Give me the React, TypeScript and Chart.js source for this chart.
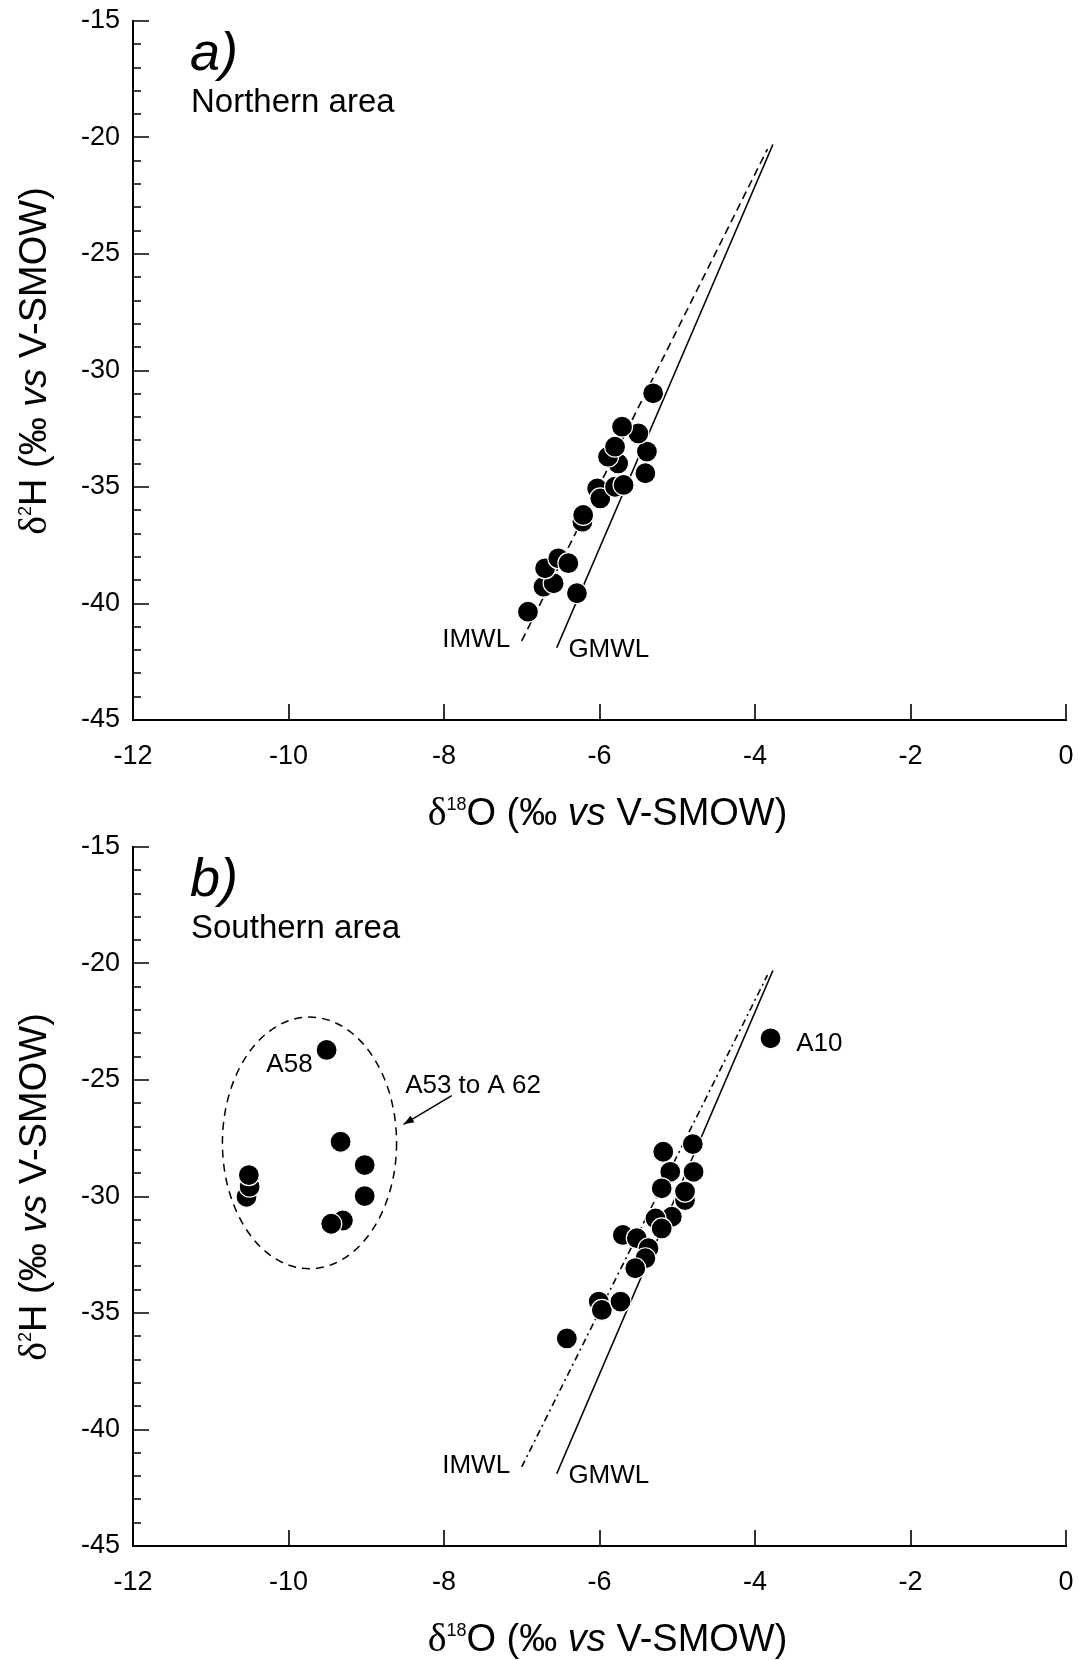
import React, { useEffect, useRef } from "react";
import { Chart, registerables } from "chart.js";
Chart.register(...registerables);

const FONT = '"Liberation Sans", Arial, Helvetica, sans-serif';
const SERIF = '"Liberation Serif", "Times New Roman", serif';

// ---- axis ticks ----
const xTickValues = [-12, -10, -8, -6, -4, -2, 0];
const yTickValues = [-45, -40, -35, -30, -25, -20, -15];
const yMinorTickValues = [-44, -43, -42, -41, -39, -38, -37, -36, -34, -33, -32, -31, -29, -28, -27, -26, -24, -23, -22, -21, -19, -18, -17, -16];

// ---- a) Northern area ----
const northO18 = [-6.92, -6.72, -6.59, -6.70, -6.53, -6.40, -6.29, -6.22, -6.21, -6.03, -5.99, -5.80, -5.69, -5.76, -5.89, -5.80, -5.41, -5.39, -5.50, -5.71, -5.31];
const northH2 = [-40.35, -39.28, -39.13, -38.49, -38.06, -38.27, -39.56, -36.49, -36.20, -35.06, -35.49, -34.99, -34.91, -33.99, -33.70, -33.27, -34.41, -33.48, -32.70, -32.41, -30.98];

// ---- b) Southern area ----
const southO18 = [-3.80, -4.90, -4.80, -5.18, -4.79, -5.09, -5.20, -4.90, -5.07, -5.28, -5.20, -5.70, -5.52, -5.37, -5.41, -5.54, -6.01, -5.97, -5.73, -6.42, -9.51, -9.33, -9.02, -9.02, -9.30, -9.45, -10.54, -10.50, -10.51];
const southH2 = [-23.21, -30.15, -27.75, -28.08, -28.94, -28.94, -29.65, -29.79, -30.87, -30.94, -31.37, -31.65, -31.79, -32.22, -32.65, -33.08, -34.51, -34.87, -34.51, -36.09, -23.71, -27.65, -28.65, -29.98, -31.03, -31.17, -30.01, -29.58, -29.08];

// ---- meteoric water lines (end points) ----
const gmwlO18 = [-6.55, -3.77];
const gmwlH2 = [-41.9, -20.3];
const imwlO18 = [-7.0, -3.84];
const imwlH2 = [-41.6, -20.5];

// ---- annotations ----
const lineLabelText = ["IMWL", "GMWL"];
const lineLabelO18 = [-7.15, -6.4];
const lineLabelH2 = [-41.55, -41.99];
const lineLabelAlign = ["right", "left"];

const southLabelText = ["A10", "A58", "A53 to A 62"];
const southLabelO18 = [-3.47, -9.69, -8.5];
const southLabelH2 = [-23.45, -24.34, -25.24];
const southLabelAlign = ["left", "right", "left"];

const clusterCenter = [-9.73, -27.7];
const clusterRadii = [1.12, 5.4];
const arrowFrom = [-7.9, -25.67];
const arrowTo = [-8.52, -26.9];

type Seg = { t: string; size: number; dy?: number; italic?: boolean; serif?: boolean };

function segFont(s: Seg) {
  return `${s.italic ? "italic " : ""}${s.size}px ${s.serif ? SERIF : FONT}`;
}

function drawRich(ctx: CanvasRenderingContext2D, segs: Seg[], cx: number, cy: number, rotate: boolean) {
  ctx.save();
  let total = 0;
  const widths = segs.map((s) => {
    ctx.font = segFont(s);
    const w = ctx.measureText(s.t).width;
    total += w;
    return w;
  });
  ctx.translate(cx, cy);
  if (rotate) ctx.rotate(-Math.PI / 2);
  ctx.fillStyle = "#000";
  ctx.textBaseline = "alphabetic";
  ctx.textAlign = "left";
  let x = -total / 2;
  segs.forEach((s, i) => {
    ctx.font = segFont(s);
    ctx.fillText(s.t, x, 13.5 + (s.dy || 0));
    x += widths[i];
  });
  ctx.restore();
}

const xTitle: Seg[] = [
  { t: "δ", size: 40, serif: true },
  { t: "18", size: 18, dy: -14.2 },
  { t: "O (‰ ", size: 38 },
  { t: "vs", size: 38, italic: true },
  { t: " V-SMOW)", size: 38 },
];
const yTitle: Seg[] = [
  { t: "δ", size: 40, serif: true },
  { t: "2", size: 18, dy: -14.2 },
  { t: "H (‰ ", size: 38 },
  { t: "vs", size: 38, italic: true },
  { t: " V-SMOW)", size: 38 },
];

type PanelSpec = {
  letter: string;
  area: string;
  o18: number[];
  h2: number[];
  imwlDash: number[];
  south: boolean;
};

function makePlugin(spec: PanelSpec) {
  return {
    id: "decor",
    afterDraw(chart: any) {
      const { ctx, chartArea } = chart;
      const xs = chart.scales.x;
      const ys = chart.scales.y;
      const { left, right, bottom } = chartArea;
      ctx.save();
      // inward tick marks
      ctx.strokeStyle = "#000";
      ctx.lineWidth = 1.6;
      ctx.beginPath();
      xTickValues.forEach((v) => {
        const px = Math.round(xs.getPixelForValue(v));
        ctx.moveTo(px, bottom);
        ctx.lineTo(px, bottom - 16);
      });
      yTickValues.forEach((v) => {
        const py = Math.round(ys.getPixelForValue(v));
        ctx.moveTo(left, py);
        ctx.lineTo(left + 16, py);
      });
      yMinorTickValues.forEach((v) => {
        const py = Math.round(ys.getPixelForValue(v));
        ctx.moveTo(left, py);
        ctx.lineTo(left + 8, py);
      });
      ctx.stroke();

      // panel letter and area name
      ctx.fillStyle = "#000";
      ctx.textBaseline = "alphabetic";
      ctx.textAlign = "left";
      ctx.font = `italic 54px ${FONT}`;
      ctx.fillText(spec.letter, 190, 70);
      ctx.font = `33px ${FONT}`;
      ctx.fillText(spec.area, 191, 112);

      // axis titles
      drawRich(ctx, xTitle, (left + right) / 2 + 8, 811, false);
      drawRich(ctx, yTitle, 32, 361, true);

      // line labels
      ctx.font = `26px ${FONT}`;
      ctx.textBaseline = "middle";
      lineLabelText.forEach((t, i) => {
        ctx.textAlign = lineLabelAlign[i] as CanvasTextAlign;
        ctx.fillText(t, xs.getPixelForValue(lineLabelO18[i]), ys.getPixelForValue(lineLabelH2[i]));
      });

      if (spec.south) {
        southLabelText.forEach((t, i) => {
          ctx.textAlign = southLabelAlign[i] as CanvasTextAlign;
          ctx.fillText(t, xs.getPixelForValue(southLabelO18[i]), ys.getPixelForValue(southLabelH2[i]));
        });
        // dashed ellipse
        const cx = xs.getPixelForValue(clusterCenter[0]);
        const cy = ys.getPixelForValue(clusterCenter[1]);
        const rx = Math.abs(xs.getPixelForValue(clusterCenter[0] + clusterRadii[0]) - cx);
        const ry = Math.abs(ys.getPixelForValue(clusterCenter[1] + clusterRadii[1]) - cy);
        ctx.setLineDash([8, 6]);
        ctx.lineWidth = 1.5;
        ctx.beginPath();
        ctx.ellipse(cx, cy, rx, ry, 0, 0, Math.PI * 2);
        ctx.stroke();
        ctx.setLineDash([]);
        // arrow
        const ax0 = xs.getPixelForValue(arrowFrom[0]);
        const ay0 = ys.getPixelForValue(arrowFrom[1]);
        const ax1 = xs.getPixelForValue(arrowTo[0]);
        const ay1 = ys.getPixelForValue(arrowTo[1]);
        ctx.lineWidth = 1.5;
        ctx.beginPath();
        ctx.moveTo(ax0, ay0);
        ctx.lineTo(ax1, ay1);
        ctx.stroke();
        const ang = Math.atan2(ay1 - ay0, ax1 - ax0);
        const hl = 11;
        ctx.beginPath();
        ctx.moveTo(ax1, ay1);
        ctx.lineTo(ax1 - hl * Math.cos(ang - 0.35), ay1 - hl * Math.sin(ang - 0.35));
        ctx.lineTo(ax1 - hl * Math.cos(ang + 0.35), ay1 - hl * Math.sin(ang + 0.35));
        ctx.closePath();
        ctx.fill();
      }
      ctx.restore();
    },
  };
}

function buildConfig(spec: PanelSpec, padBottom: number): any {
  const pts = spec.o18.map((x, i) => ({ x, y: spec.h2[i] }));
  const gmwl = gmwlO18.map((x, i) => ({ x, y: gmwlH2[i] }));
  const imwl = imwlO18.map((x, i) => ({ x, y: imwlH2[i] }));
  const tickFont = { family: FONT, size: 27 };
  return {
    type: "scatter",
    data: {
      datasets: [
        {
          label: "samples",
          data: pts,
          pointRadius: 10.5,
          pointBackgroundColor: "#000",
          pointBorderColor: "#fff",
          pointBorderWidth: 1.2,
          showLine: false,
        },
        {
          label: "GMWL",
          data: gmwl,
          showLine: true,
          borderColor: "#000",
          borderWidth: 1.6,
          pointRadius: 0,
        },
        {
          label: "IMWL",
          data: imwl,
          showLine: true,
          borderColor: "#000",
          borderWidth: 1.6,
          borderDash: spec.imwlDash,
          pointRadius: 0,
        },
      ],
    },
    options: {
      responsive: false,
      animation: false,
      devicePixelRatio: 1,
      layout: { padding: { top: 21, right: 12, left: 0, bottom: padBottom } },
      plugins: { legend: { display: false }, tooltip: { enabled: false } },
      events: [],
      scales: {
        x: {
          type: "linear",
          min: -12,
          max: 0,
          afterBuildTicks: (s: any) => {
            s.ticks = xTickValues.map((v) => ({ value: v }));
          },
          afterFit: (s: any) => {
            s.height = 107;
            s.paddingLeft = 0;
            s.paddingRight = 0;
          },
          grid: { display: false, drawTicks: false },
          border: { display: true, color: "#000", width: 2 },
          ticks: { color: "#000", font: tickFont, padding: 20, maxRotation: 0, autoSkip: false },
        },
        y: {
          type: "linear",
          min: -45,
          max: -15,
          afterBuildTicks: (s: any) => {
            s.ticks = yTickValues.map((v) => ({ value: v }));
          },
          afterFit: (s: any) => {
            s.width = 133;
            s.paddingTop = 0;
            s.paddingBottom = 0;
          },
          grid: { display: false, drawTicks: false },
          border: { display: true, color: "#000", width: 2 },
          ticks: { color: "#000", font: tickFont, padding: 13, autoSkip: false },
        },
      },
    },
    plugins: [makePlugin(spec)],
  };
}

function Panel({ spec, top, height, padBottom }: { spec: PanelSpec; top: number; height: number; padBottom: number }) {
  const ref = useRef<HTMLCanvasElement>(null);
  useEffect(() => {
    const chart = new Chart(ref.current as HTMLCanvasElement, buildConfig(spec, padBottom));
    return () => chart.destroy();
  }, []);
  return (
    <canvas
      ref={ref}
      width={1078}
      height={height}
      style={{ position: "absolute", left: 0, top, width: 1078, height, display: "block" }}
    />
  );
}

const northSpec: PanelSpec = {
  letter: "a)",
  area: "Northern area",
  o18: northO18,
  h2: northH2,
  imwlDash: [8, 5],
  south: false,
};
const southSpec: PanelSpec = {
  letter: "b)",
  area: "Southern area",
  o18: southO18,
  h2: southH2,
  imwlDash: [7, 4, 2, 4],
  south: true,
};

export default function App() {
  return (
    <div style={{ position: "absolute", left: 0, top: 0, width: 1078, height: 1660, background: "#fff", overflow: "hidden" }}>
      <Panel spec={northSpec} top={0} height={842} padBottom={15} />
      <Panel spec={southSpec} top={826} height={834} padBottom={7} />
    </div>
  );
}
